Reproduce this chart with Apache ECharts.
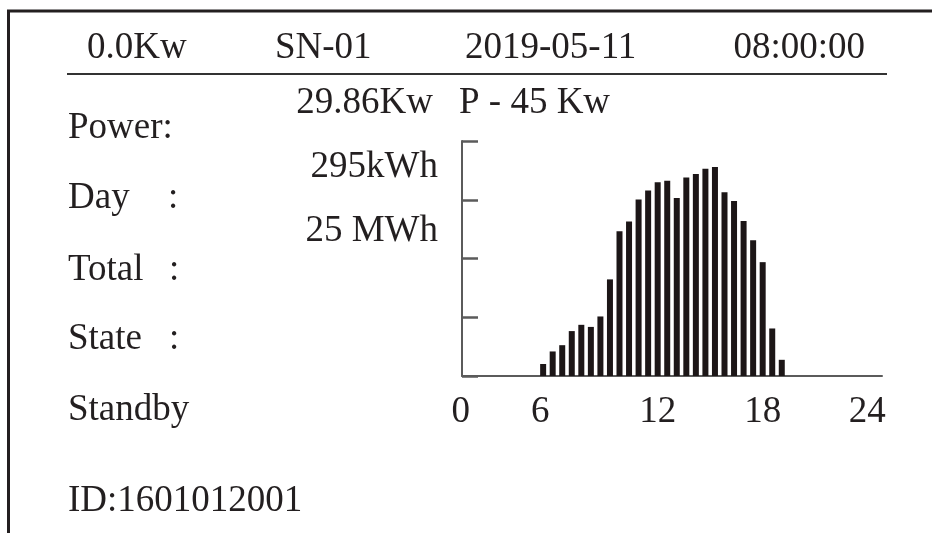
<!DOCTYPE html>
<html>
<head>
<meta charset="utf-8">
<script src="https://cdn.jsdelivr.net/npm/echarts@6/dist/echarts.min.js"></script>
<style>
  html, body { margin: 0; padding: 0; background: #ffffff; }
  #main { width: 932px; height: 533px; }
</style>
</head>
<body>
<div id="main"></div>
<script>
// Daily generation profile shown on the inverter display (kW per slot)
const slotCount = 44;
const firstSlot = 8;
const power = [2.3, 4.7, 5.9, 8.6, 9.8, 9.4, 11.4, 18.5, 27.7, 29.6, 33.8, 35.5, 37.1,
               37.4, 34.1, 38.0, 38.7, 39.7, 40.0, 35.2, 33.5, 29.7, 26.0, 21.8, 9.1, 3.1];
// Hour labels on the time axis and the slots they sit under
const hourTicks = ['0', '6', '12', '18', '24'];
const tickSlots = [0, 8, 20, 31, 43];
// Power scale: rated power and number of divisions
const ratedPower = 45;
const powerDivisions = 4;

// Display readings
const header = ['0.0Kw', 'SN-01', '2019-05-11', '08:00:00'];
const fieldNames = ['Power:', 'Day', 'Total', 'State', 'Standby', 'ID:1601012001'];
const readings = ['29.86Kw', '295kWh', '25 MWh'];
const ratedLabel = 'P - 45 Kw';

const slots = [];
const values = [];
for (let i = 0; i < slotCount; i++) {
  slots.push('s' + i);
  const k = i - firstSlot;
  values.push(k >= 0 && k < power.length ? power[k] : null);
}

const ink = '#231f20';
const axisGray = '#5b5b5b';
const FONT = '37px "Liberation Serif", "DejaVu Serif", serif';

function txt(text, x, y, align) {
  return {
    type: 'text', x: x, y: y, silent: true,
    style: { text: text, font: FONT, fill: ink, align: align || 'left', verticalAlign: 'middle' }
  };
}

// small per-label nudges so the hour numbers sit where the display prints them
const labelShift = { '0': -6, '6': -3, '12': 0, '18': 0, '24': -10 };
const rich = {};
hourTicks.forEach(function (h, i) {
  const d = labelShift[h];
  rich['t' + i] = {
    fontFamily: '"Liberation Serif", "DejaVu Serif", serif',
    fontSize: 37, color: ink,
    padding: d < 0 ? [0, -2 * d, 0, 0] : [0, 0, 0, 2 * d]
  };
});

const graphics = [
  // frame
  { type: 'line', silent: true, shape: { x1: 7, y1: 11, x2: 932, y2: 11 }, style: { stroke: ink, lineWidth: 3 } },
  { type: 'line', silent: true, shape: { x1: 8.5, y1: 10, x2: 8.5, y2: 533 }, style: { stroke: ink, lineWidth: 3 } },
  // header rule
  { type: 'line', silent: true, shape: { x1: 67, y1: 74, x2: 887, y2: 74 }, style: { stroke: '#333333', lineWidth: 2 } },
  txt(header[0], 87, 48),
  txt(header[1], 275, 48),
  txt(header[2], 465, 48),
  txt(header[3], 865, 48, 'right'),
  txt(fieldNames[0], 68, 128),
  txt(fieldNames[1], 68, 198), txt(':', 168, 198),
  txt(fieldNames[2], 68, 270), txt(':', 169, 270),
  txt(fieldNames[3], 68, 339), txt(':', 169, 339),
  txt(fieldNames[4], 68, 410),
  txt(fieldNames[5], 68, 501),
  txt(readings[0], 433, 103, 'right'),
  txt(ratedLabel, 459, 103),
  txt(readings[1], 438, 167, 'right'),
  txt(readings[2], 438, 231, 'right')
];

const chart = echarts.init(document.getElementById('main'), null, { renderer: 'canvas' });
chart.setOption({
  animation: false,
  backgroundColor: '#ffffff',
  grid: { left: 462, top: 141, width: 420, bottom: 157, containLabel: false },
  xAxis: {
    type: 'category',
    data: slots,
    boundaryGap: true,
    axisLine: { show: true, lineStyle: { color: axisGray, width: 2 } },
    axisTick: { show: false },
    splitLine: { show: false },
    axisLabel: {
      show: true,
      margin: 18,
      interval: function (index) { return tickSlots.indexOf(index) >= 0; },
      formatter: function (value, index) {
        const t = tickSlots.indexOf(index);
        return t >= 0 ? '{t' + t + '|' + hourTicks[t] + '}' : '';
      },
      rich: rich
    }
  },
  yAxis: {
    type: 'value',
    min: 0,
    max: ratedPower,
    interval: ratedPower / powerDivisions,
    axisLine: { show: true, lineStyle: { color: axisGray, width: 2 } },
    axisTick: { show: true, inside: true, length: 16, lineStyle: { color: axisGray, width: 2.5 } },
    axisLabel: { show: false },
    splitLine: { show: false }
  },
  series: [{
    type: 'bar',
    data: values,
    barWidth: 6,
    itemStyle: { color: '#1c1617' },
    silent: true
  }],
  graphic: graphics
});
</script>
</body>
</html>
